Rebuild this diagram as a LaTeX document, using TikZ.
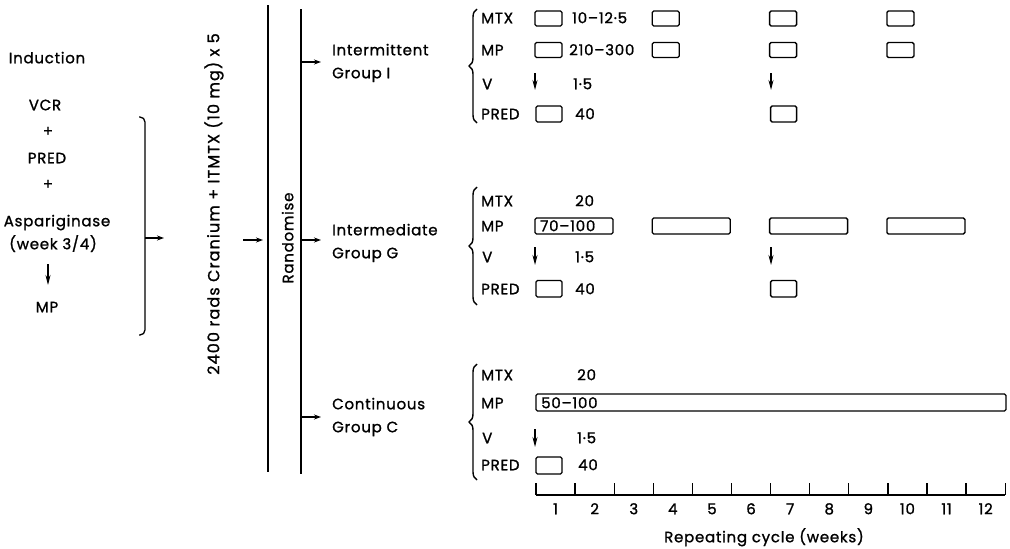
\documentclass[tikz,border=0pt]{standalone}
\usepackage{fontspec}
\setmainfont{Poppins}[LetterSpace=5, FakeBold=1.2]
\newfontfamily\rotfont{Poppins}[LetterSpace=7, FakeBold=1.2]
\usetikzlibrary{arrows.meta,decorations.pathreplacing}
\begin{document}
\begin{tikzpicture}[x=1pt,y=-1pt,
  txt/.style={font=\fontsize{15}{17}\selectfont, inner sep=0pt, text height=10.5pt, text depth=0pt},
  lbl/.style={txt, anchor=west},
  dose/.style={draw, rounded corners=1.5pt, line width=1.3pt},
  ln/.style={line width=1.3pt},
  arr/.style={line width=1.1pt, -{Stealth[length=7pt,width=5pt]}},
  varr/.style={line width=1.1pt, -{Stealth[length=10pt,width=5pt]}},
  brc/.style={line width=1.4pt, decorate, decoration={brace, amplitude=8pt}},
]
\useasboundingbox (0,0) rectangle (1010,549);

% ---------- Induction column ----------
\node[txt] (ind)  at (47,58)  {Induction};
\node[txt] (vcr)  at (45,105) {VCR};
\node[txt] (pl1)  at (48,131) {+};
\node[txt] (pred) at (47,158) {PRED};
\node[txt] (pl2)  at (48,184) {+};
\node[txt] (asp)  at (57,221) {Aspariginase};
\node[txt] (wk)   at (53,244) {(week 3/4)};
\node[txt] (mp0)  at (47,307) {MP};
\coordinate (ia1) at (48,264);
\coordinate (ia2) at (48,285);
\draw[varr] (ia1) -- (ia2);

% bracket
\coordinate (bt) at (139,117);
\coordinate (bb) at (139,335);
\draw[ln, rounded corners=5pt] (bt) -- (145,117) -- (145,335) -- (bb);
\coordinate (bm) at (145,238);
\coordinate (bme) at (164,238);
\draw[arr] (bm) -- (bme);

% cranium text
\node[txt, font=\rotfont\fontsize{16}{18}\selectfont, rotate=90] (crn) at (214,204) {2400 rads Cranium + ITMTX (10 mg) x 5};
\coordinate (ca1) at (243,240);
\coordinate (ca2) at (263,240);
\draw[arr] (ca1) -- (ca2);

% randomise lines
\coordinate (l1t) at (268,5);
\coordinate (l1b) at (268,472);
\coordinate (l2t) at (301,9);
\coordinate (l2b) at (301,474);
\draw[ln] (l1t) -- (l1b);
\draw[ln] (l2t) -- (l2b);
\node[txt, rotate=90] (rnd) at (288,238) {Randomise};

\coordinate (r1) at (301,62);  \coordinate (r1e) at (321,62);
\coordinate (r2) at (301,240); \coordinate (r2e) at (321,240);
\coordinate (r3) at (301,417); \coordinate (r3e) at (321,417);
\draw[arr] (r1) -- (r1e);
\draw[arr] (r2) -- (r2e);
\draw[arr] (r3) -- (r3e);

\node[lbl] (gi1) at (332,50)  {Intermittent};
\node[lbl] (gi2) at (332,73)  {Group I};
\node[lbl] (gg1) at (332,230) {Intermediate};
\node[lbl] (gg2) at (332,253) {Group G};
\node[lbl] (gc1) at (332,404) {Continuous};
\node[lbl] (gc2) at (332,427) {Group C};

% ---------- Group I ----------
\draw[brc] (477,123) -- (477,9);
\node[lbl] (imtx) at (481,18)  {MTX};
\node[lbl] (imp)  at (481,50)  {MP};
\node[lbl] (iv)   at (482,84)  {V};
\node[lbl] (ipr)  at (481,114) {PRED};
\foreach \k in {1,4,7,10}{
  \pgfmathsetmacro\xs{536+(\k-1)*39.1}
  \draw[dose] (\xs-1,11) rectangle (\xs+26,26);
  \draw[dose] (\xs-1,42.5) rectangle (\xs+26,57.5);
}
\foreach \k in {1,7}{
  \pgfmathsetmacro\xs{536+(\k-1)*39.1}
  \draw[dose] (\xs,106) rectangle (\xs+26,122);
}
\node[lbl] (id1) at (572,18)  {10–12·5};
\node[lbl] (id2) at (569,50)  {210–300};
\node[lbl] (id3) at (573,84)  {1·5};
\node[lbl] (id4) at (575,114) {40};
\coordinate (iva) at (535,73);  \coordinate (ivb) at (535,90);
\coordinate (ivc) at (771,73);  \coordinate (ivd) at (771,90);
\draw[varr] (iva) -- (ivb);
\draw[varr] (ivc) -- (ivd);

% ---------- Group G ----------
\draw[brc] (477,305) -- (477,187);
\node[lbl] (gmtx) at (481,201) {MTX};
\node[lbl] (gmp)  at (481,226) {MP};
\node[lbl] (gv)   at (482,257) {V};
\node[lbl] (gpr)  at (481,289) {PRED};
\foreach \k in {1,4,7,10}{
  \pgfmathsetmacro\xs{536+(\k-1)*39.1}
  \draw[dose] (\xs-1,218) rectangle (\xs+77,234);
}
\foreach \k in {1,7}{
  \pgfmathsetmacro\xs{536+(\k-1)*39.1}
  \draw[dose] (\xs,280.5) rectangle (\xs+26,297);
}
\node[lbl] (gd1) at (575,201) {20};
\node[lbl] (gd2) at (540,226) {70–100};
\node[lbl] (gd3) at (575,257) {1·5};
\node[lbl] (gd4) at (575,289) {40};
\coordinate (gva) at (535,247); \coordinate (gvb) at (535,265);
\coordinate (gvc) at (771,247); \coordinate (gvd) at (771,265);
\draw[varr] (gva) -- (gvb);
\draw[varr] (gvc) -- (gvd);

% ---------- Group C ----------
\draw[brc] (477,480) -- (477,364);
\node[lbl] (cmtx) at (481,375) {MTX};
\node[lbl] (cmp)  at (481,403) {MP};
\node[lbl] (cv)   at (482,438) {V};
\node[lbl] (cpr)  at (481,465) {PRED};
\draw[dose] (536,394) rectangle (1006,411);
\draw[dose] (536,457) rectangle (562,474);
\node[lbl] (cd1) at (577,375) {20};
\node[lbl] (cd2) at (541,403) {50–100};
\node[lbl] (cd3) at (577,438) {1·5};
\node[lbl] (cd4) at (578,465) {40};
\coordinate (cva) at (535,429); \coordinate (cvb) at (535,447);
\draw[varr] (cva) -- (cvb);

% ---------- axis ----------
\coordinate (ax0) at (536,495);
\coordinate (ax1) at (1005,495);
\draw[ln] (ax0) -- (ax1);
\foreach \k in {1,...,13}{
  \pgfmathsetmacro\xs{536+(\k-1)*39.1}
  \draw[ln] (\xs,483) -- (\xs,495);
}
\foreach \k in {1,...,12}{
  \pgfmathsetmacro\xs{536+(\k-0.5)*39.1}
  \node[txt] (n\k) at (\xs,509) {\k};
}
\node[txt] (axl) at (764,537) {Repeating cycle (weeks)};
\end{tikzpicture}
\end{document}
